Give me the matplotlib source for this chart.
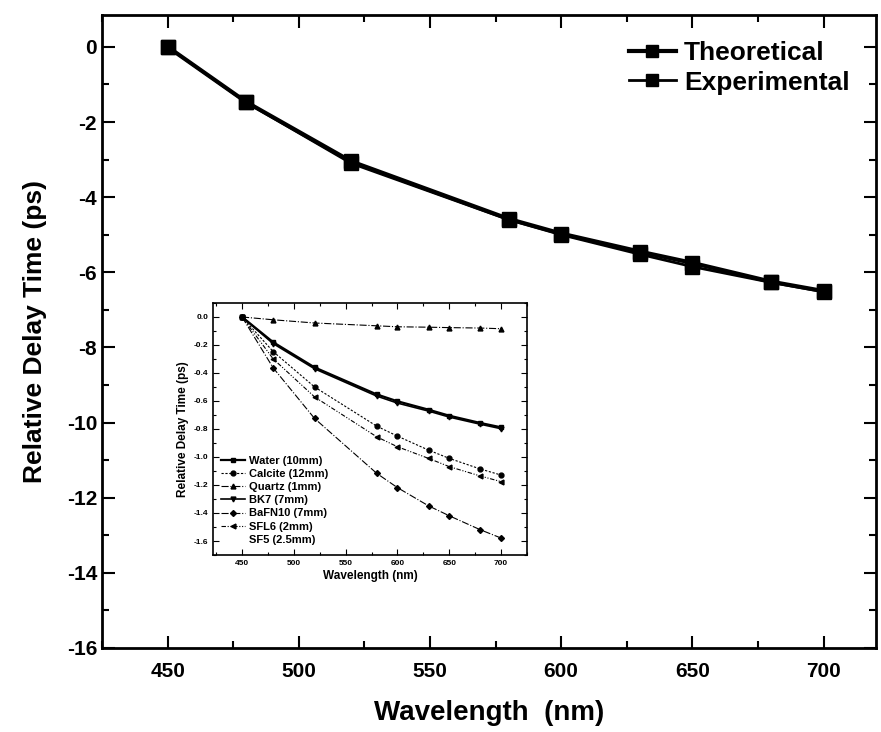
import matplotlib
matplotlib.use("Agg")
import matplotlib.pyplot as plt
from matplotlib.lines import Line2D
from matplotlib.ticker import MultipleLocator

plt.rcParams['font.family'] = ['Liberation Sans', 'DejaVu Sans']
plt.rcParams['font.weight'] = 'bold'
plt.rcParams['axes.unicode_minus'] = False

# main chart data
wavelength = [450, 480, 520, 580, 600, 630, 650, 680, 700]
theoretical = [0, -1.47, -3.05, -4.58, -4.97, -5.45, -5.75, -6.25, -6.50]
experimental = [0, -1.48, -3.10, -4.60, -5.00, -5.52, -5.85, -6.27, -6.52]

# inset data (relative delay per material)
water = [0, -0.18, -0.36, -0.553, -0.602, -0.662, -0.705, -0.757, -0.788]
calcite = [0, -0.247, -0.50, -0.78, -0.851, -0.951, -1.01, -1.086, -1.129]
quartz = [0, -0.02, -0.043, -0.063, -0.07, -0.073, -0.076, -0.079, -0.084]
bk7 = [0, -0.19, -0.37, -0.565, -0.615, -0.672, -0.715, -0.766, -0.798]
bafn10 = [0, -0.363, -0.725, -1.117, -1.219, -1.349, -1.42, -1.52, -1.579]
sfl6 = [0, -0.299, -0.571, -0.856, -0.927, -1.01, -1.069, -1.136, -1.176]

fig = plt.figure(figsize=(8.81, 7.32), dpi=100)
ax = fig.add_axes([0.1158, 0.1148, 0.8785, 0.8648])

ax.plot(wavelength, theoretical, color='black', lw=3, marker='s', ms=10, label='Theoretical')
ax.plot(wavelength, experimental, color='black', lw=2, marker='s', ms=10, label='Experimental')

ax.set_xlim(425, 720)
ax.set_ylim(-16, 0.85)
ax.xaxis.set_major_locator(MultipleLocator(50))
ax.xaxis.set_minor_locator(MultipleLocator(25))
ax.yaxis.set_major_locator(MultipleLocator(2))
ax.yaxis.set_minor_locator(MultipleLocator(1))
ax.tick_params(which='both', direction='in', top=True, right=True, width=1.5, labelsize=15)
ax.tick_params(which='major', length=9)
ax.tick_params(which='minor', length=5)
ax.tick_params(axis='x', pad=10)
for s in ax.spines.values():
    s.set_linewidth(2)
ax.set_xlabel('Wavelength  (nm)', fontsize=20, fontweight='bold', labelpad=14)
ax.set_ylabel('Relative Delay Time (ps)', fontsize=19, fontweight='bold', labelpad=14)
ax.legend(loc='upper right', frameon=False, fontsize=19, handlelength=1.8,
          handletextpad=0.3, labelspacing=0.2, borderaxespad=0.6, markerscale=0.9)

# inset
ins = fig.add_axes([0.2418, 0.2418, 0.3564, 0.3443])
ins.plot(wavelength, water, color='black', lw=1.6, ls='-', marker='s', ms=3.5, label='Water (10mm)')
ins.plot(wavelength, calcite, color='black', lw=0.8, ls=(0, (2, 1.5)), marker='o', ms=3.5, label='Calcite (12mm)')
ins.plot(wavelength, quartz, color='black', lw=0.8, ls='-.', marker='^', ms=3.5, label='Quartz (1mm)')
ins.plot(wavelength, bk7, color='black', lw=1.2, ls='-', marker='v', ms=3.5, label='BK7 (7mm)')
ins.plot(wavelength, bafn10, color='black', lw=0.8, ls='-.', marker='D', ms=3, label='BaFN10 (7mm)')
ins.plot(wavelength, sfl6, color='black', lw=0.8, ls=(0, (4, 1.5, 1, 1.5, 1, 1.5)), marker='<', ms=3.5, label='SFL6 (2mm)')
handles, labels = ins.get_legend_handles_labels()
handles.append(Line2D([], [], ls='none'))
labels.append('SF5 (2.5mm)')
ins.legend(handles, labels, loc='lower left', frameon=False, fontsize=8, handlelength=2.2,
           handletextpad=0.3, labelspacing=0.28, borderaxespad=0.3, bbox_to_anchor=(0.0, 0.01))

ins.set_xlim(422, 725)
ins.set_ylim(-1.7, 0.1)
ins.xaxis.set_major_locator(MultipleLocator(50))
ins.xaxis.set_minor_locator(MultipleLocator(25))
ins.yaxis.set_major_locator(MultipleLocator(0.2))
ins.yaxis.set_minor_locator(MultipleLocator(0.1))
ins.tick_params(which='both', direction='in', top=True, right=True, width=0.8, labelsize=6)
ins.tick_params(which='major', length=4)
ins.tick_params(which='minor', length=2)
for s in ins.spines.values():
    s.set_linewidth(1.2)
ins.set_xlabel('Wavelength (nm)', fontsize=8.5, fontweight='bold', labelpad=2)
ins.set_ylabel('Relative Delay Time (ps)', fontsize=8.5, fontweight='bold', labelpad=3)

fig.savefig('out.png', dpi=100)
